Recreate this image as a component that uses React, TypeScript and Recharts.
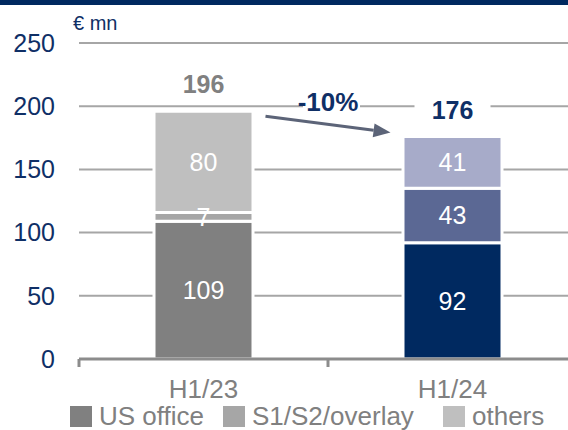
import { BarChart, Bar, XAxis, YAxis, CartesianGrid, LabelList, Cell, ReferenceLine } from 'recharts';

const periods = ['H1/23', 'H1/24'];
const usOffice = [109, 92];
const overlay = [7, 43];
const others = [80, 41];
const yTicks = [0, 50, 100, 150, 200, 250];

const seriesNames = ['US office', 'S1/S2/overlay', 'others'];
const legendColors = ['#808080', '#a6a6a6', '#bfbfbf'];
// prior period in greys, current period in blues (bottom to top)
const periodColors = [
  ['#808080', '#a6a6a6', '#bfbfbf'],
  ['#002960', '#5b6894', '#a7abc9'],
];
const totalColors = ['#808080', '#0f2f66'];

const NAVY = '#0f2f66';
const FONT = '"Liberation Sans", Arial, sans-serif';
const CHART_W = 577;
const CHART_H = 430;
const Y_AXIS_W = 79;
const BAND = (CHART_W - Y_AXIS_W) / periods.length;
const LEGEND_LEFT = [70, 223, 443];

const data = periods.map((period, i) => ({
  period,
  us: usOffice[i],
  ov: overlay[i],
  ot: others[i],
  total: usOffice[i] + overlay[i] + others[i],
}));

const change = Math.round(((data[1].total - data[0].total) / data[0].total) * 100);

function PeriodTick(props: any) {
  const { x, y, payload } = props;
  const edge = x - BAND / 2;
  return (
    <g>
      <line x1={edge} y1={y - 21} x2={edge} y2={y - 13} stroke="#8c8c8c" strokeWidth={3} />
      <text x={x} y={y} dy="0.71em" textAnchor="middle" fill="#808080" fontSize={26} fontFamily={FONT}>
        {payload.value}
      </text>
    </g>
  );
}

function TotalLabel(props: any) {
  const { x, y, width, value, index } = props;
  const cx = x + width / 2;
  const base = y - 18;
  return (
    <g>
      <rect x={cx - 38} y={base - 22} width={76} height={27} fill="#fff" />
      <text x={cx} y={base} textAnchor="middle" fontWeight="bold" fontSize={25} fontFamily={FONT} fill={totalColors[index]}>
        {value}
      </text>
    </g>
  );
}

// arrow between the two bar tops with the growth rate above it
function ChangeArrow(props: any) {
  const { x1, y1, x2, y2 } = props;
  const sx = x1 + 62;
  const sy = y1 + 5;
  const ex = x2 - 62;
  const ey = y2 - 4;
  const len = Math.hypot(ex - sx, ey - sy);
  const ux = (ex - sx) / len;
  const uy = (ey - sy) / len;
  const head = 17;
  const half = 7;
  const bx = ex - ux * head;
  const by = ey - uy * head;
  const mx = (x1 + x2) / 2;
  const my = (y1 + y2) / 2;
  return (
    <g>
      <line x1={sx} y1={sy} x2={bx} y2={by} stroke="#5c6478" strokeWidth={3} />
      <polygon
        points={`${ex},${ey} ${bx - uy * half},${by + ux * half} ${bx + uy * half},${by - ux * half}`}
        fill="#5c6478"
      />
      <rect x={mx - 25} y={my - 32} width={57} height={24} fill="#fff" />
      <text x={mx} y={my - 13} textAnchor="middle" fontWeight="bold" fontSize={26} fontFamily={FONT} fill={NAVY}>
        {`${change}%`}
      </text>
    </g>
  );
}

const segLabel = { position: 'center' as const, fill: '#fff', fontSize: 25, fontFamily: FONT, stroke: 'none' };

export default function App() {
  return (
    <div
      style={{
        position: 'absolute',
        left: 0,
        top: 0,
        width: 568,
        height: 430,
        overflow: 'hidden',
        background: '#fff',
        fontFamily: FONT,
      }}
    >
      <div style={{ position: 'absolute', left: 0, top: 0, width: 568, height: 5, background: '#002960' }} />
      <div style={{ position: 'absolute', left: 73, top: 12, fontSize: 20, color: NAVY, whiteSpace: 'nowrap' }}>€ mn</div>

      <BarChart
        width={CHART_W}
        height={CHART_H}
        data={data}
        margin={{ top: 43, right: 0, bottom: 0, left: 0 }}
        barSize={99}
      >
        <CartesianGrid vertical={false} stroke="#a6a6a6" strokeWidth={2} />
        <YAxis
          width={Y_AXIS_W}
          domain={[0, 250]}
          ticks={yTicks}
          axisLine={false}
          tickLine={false}
          tickSize={0}
          tickMargin={24}
          tick={{ fill: NAVY, fontSize: 25, fontFamily: FONT }}
        />
        <XAxis
          dataKey="period"
          height={71}
          axisLine={{ stroke: '#8c8c8c', strokeWidth: 3 }}
          tickLine={false}
          tickSize={0}
          tickMargin={21}
          tick={<PeriodTick />}
        />
        <Bar dataKey="us" stackId="a" stroke="#fff" strokeWidth={3} isAnimationActive={false}>
          {data.map((d, i) => (
            <Cell key={d.period} fill={periodColors[i][0]} />
          ))}
          <LabelList dataKey="us" {...segLabel} />
        </Bar>
        <Bar dataKey="ov" stackId="a" stroke="#fff" strokeWidth={3} isAnimationActive={false}>
          {data.map((d, i) => (
            <Cell key={d.period} fill={periodColors[i][1]} />
          ))}
          <LabelList dataKey="ov" {...segLabel} />
        </Bar>
        <Bar dataKey="ot" stackId="a" stroke="#fff" strokeWidth={3} isAnimationActive={false}>
          {data.map((d, i) => (
            <Cell key={d.period} fill={periodColors[i][2]} />
          ))}
          <LabelList dataKey="ot" {...segLabel} />
          <LabelList dataKey="total" content={<TotalLabel />} />
        </Bar>
        <ReferenceLine
          segment={[
            { x: periods[0], y: data[0].total },
            { x: periods[1], y: data[1].total },
          ]}
          ifOverflow="visible"
          shape={(p: any) => <ChangeArrow {...p} />}
        />
      </BarChart>

      {seriesNames.map((name, i) => (
        <div
          key={name}
          style={{
            position: 'absolute',
            left: LEGEND_LEFT[i],
            top: 402,
            display: 'flex',
            alignItems: 'center',
            fontSize: 26,
            lineHeight: '29px',
            color: '#808080',
            whiteSpace: 'nowrap',
          }}
        >
          <div style={{ width: 22, height: 21, background: legendColors[i], marginRight: 7 }} />
          <span>{name}</span>
        </div>
      ))}
    </div>
  );
}
